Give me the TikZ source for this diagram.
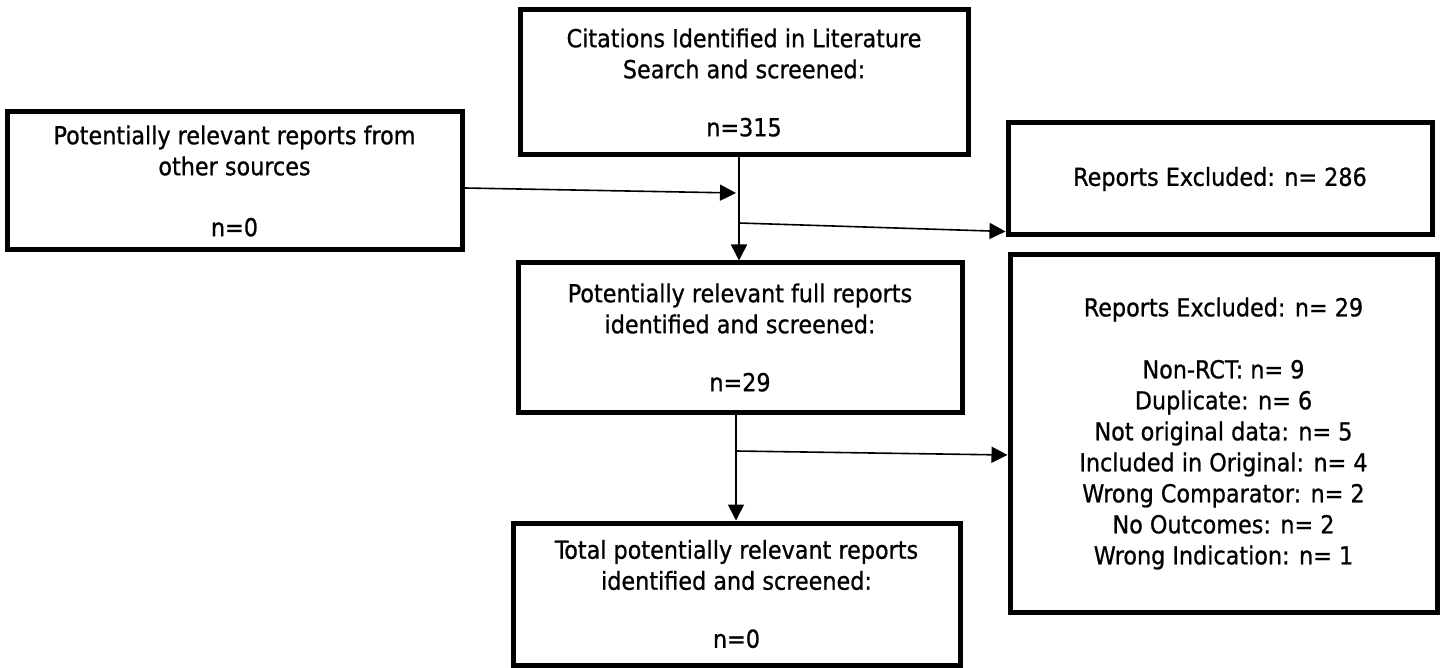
\documentclass[tikz,border=0pt]{standalone}
\usepackage{fontspec}
\setmainfont{DejaVu Sans Condensed}[FakeBold=0.8]
\usetikzlibrary{arrows.meta,calc}

\begin{document}
\begin{tikzpicture}[x=0.5pt,y=-0.5pt,>={Triangle[length=8pt,width=8pt]},
    box/.style={draw,line width=2.5pt,align=center,inner sep=0pt,
      font=\fontsize{12.4}{15.5}\selectfont},
    flow/.style={->,line width=0.8pt}]
  \useasboundingbox (0,0) rectangle (1440,668);

  \node[box,minimum width=227.5pt,minimum height=69pt] (other) at (234.5,181)
    {Potentially relevant reports from\\other sources\\[15pt]n=0};
  \node[box,minimum width=224pt,minimum height=72.5pt] (cit) at (744,82.5)
    {Citations Identified in Literature\\Search and screened:\\[13.5pt]n=315};
  \node[box,minimum width=212pt,minimum height=56pt] (excl1) at (1220,179)
    {Reports Excluded: n= 286};
  \node[box,minimum width=222pt,minimum height=74.5pt] (full) at (740,337.5)
    {Potentially relevant full reports\\identified and screened:\\[13.5pt]n=29};
  \node[box,minimum width=213.5pt,minimum height=178.5pt] (excl2) at (1223.5,433.5)
    {Reports Excluded: n= 29\\[15.5pt]Non-RCT: n= 9\\Duplicate: n= 6\\Not original data: n= 5\\
     Included in Original: n= 4\\Wrong Comparator: n= 2\\No Outcomes: n= 2\\Wrong Indication: n= 1};
  \node[box,minimum width=223.5pt,minimum height=71pt] (total) at (736.5,594)
    {Total potentially relevant reports\\identified and screened:\\[13.5pt]n=0};

  % junctions on the main line
  \coordinate (j0) at (736,193);
  \coordinate (j1) at (739,223);
  \coordinate (j2) at (736,451);

  \draw[flow] (cit.south -| j1) -- (full.north -| j1);
  \draw[flow] ($(other.east)+(0,7)$) -- (j0);
  \draw[flow] (j1) -- ($(excl1.south west)+(0,-6)$);
  \draw[flow] (full.south -| j2) -- (total.north -| j2);
  \draw[flow] (j2) -- ($(excl2.west)+(0,21.5)$);

\end{tikzpicture}
\end{document}
